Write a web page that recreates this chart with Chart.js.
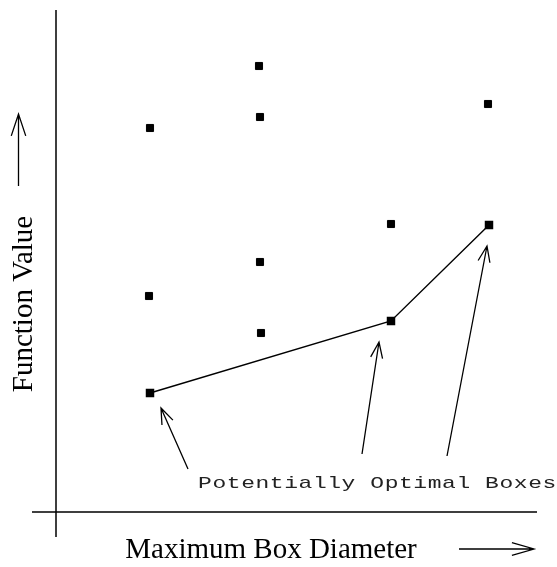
<!DOCTYPE html>
<html>
<head>
<meta charset="utf-8">
<script src="https://cdn.jsdelivr.net/npm/chart.js@4.4.1/dist/chart.umd.min.js"></script>
<style>
  html, body { margin: 0; padding: 0; background: #fff; }
  canvas { display: block; }
</style>
</head>
<body>
<canvas id="chart" width="557" height="567"></canvas>
<script>
// box diameter (x) / function value (y), arbitrary units
const boxX = [0.94, 0.93, 2.03, 2.04, 2.04, 2.05, 3.35, 4.32];
const boxY = [3.84, 2.16, 4.46, 3.95, 2.50, 1.79, 2.88, 4.08];

// potentially optimal boxes (lower right hull)
const hullX = [0.94, 3.35, 4.33];
const hullY = [1.19, 1.91, 2.87];

const X_LABEL = 'Maximum Box Diameter';
const Y_LABEL = 'Function Value';
const NOTE = 'Potentially Optimal Boxes';

const toPoints = (xs, ys) => xs.map((x, i) => ({ x, y: ys[i] }));

function arrow(ctx, x1, y1, x2, y2, len, ang) {
  // line from (x1,y1) to tip (x2,y2) with open head
  const a = Math.atan2(y2 - y1, x2 - x1);
  ctx.beginPath();
  ctx.moveTo(x1, y1);
  ctx.lineTo(x2, y2);
  ctx.moveTo(x2 - len * Math.cos(a - ang), y2 - len * Math.sin(a - ang));
  ctx.lineTo(x2, y2);
  ctx.lineTo(x2 - len * Math.cos(a + ang), y2 - len * Math.sin(a + ang));
  ctx.stroke();
}

// axes, arrows and labels
const decorations = {
  id: 'decorations',
  afterDatasetsDraw(chart) {
    const { ctx, scales: { x, y } } = chart;
    const ox = x.getPixelForValue(0);
    const oy = y.getPixelForValue(0);
    ctx.save();
    ctx.strokeStyle = '#000';
    ctx.lineWidth = 1.5;
    ctx.beginPath();
    ctx.moveTo(ox, 10);
    ctx.lineTo(ox, oy + 25);
    ctx.moveTo(ox - 24, oy);
    ctx.lineTo(537, oy);
    ctx.stroke();

    // arrows pointing at the hull boxes
    ctx.lineWidth = 1.3;
    const tips = [[11, 15, 188, 469], [-12, 21, 362, 454], [-2, 21, 447, 456]];
    tips.forEach(([dx, dy, tx, ty], i) => {
      const px = x.getPixelForValue(hullX[i]) + dx;
      const py = y.getPixelForValue(hullY[i]) + dy;
      arrow(ctx, tx, ty, px, py, 17, 0.36);
    });

    // axis direction arrows
    arrow(ctx, 18.5, 186, 18.5, 114, 23, 0.32);
    arrow(ctx, 459, 549, 534, 549, 23, 0.28);

    ctx.fillStyle = '#000';
    ctx.font = '29px "Liberation Serif", "Times New Roman", serif';
    ctx.textAlign = 'center';
    ctx.textBaseline = 'alphabetic';
    ctx.fillText(X_LABEL, 271, 558);

    ctx.save();
    ctx.translate(32, 304);
    ctx.rotate(-Math.PI / 2);
    ctx.fillText(Y_LABEL, 0, 0);
    ctx.restore();

    ctx.font = '17px "Liberation Mono", "Courier New", monospace';
    ctx.textAlign = 'center';
    ctx.fillStyle = '#222';
    for (let i = 0; i < NOTE.length; i++) {
      ctx.save();
      ctx.translate(205 + i * 14.35, 488);
      ctx.scale(1.35, 1);
      ctx.fillText(NOTE[i], 0, 0);
      ctx.restore();
    }
    ctx.restore();
  }
};

new Chart(document.getElementById('chart'), {
  type: 'scatter',
  data: {
    datasets: [
      {
        label: 'boxes',
        data: toPoints(boxX, boxY),
        pointStyle: 'rect',
        pointRadius: 5,
        borderWidth: 1,
        borderColor: '#000',
        backgroundColor: '#000'
      },
      {
        label: 'optimal',
        data: toPoints(hullX, hullY),
        showLine: true,
        pointStyle: 'rect',
        pointRadius: 5,
        borderWidth: 1.4,
        borderColor: '#000',
        backgroundColor: '#000'
      }
    ]
  },
  options: {
    responsive: false,
    animation: false,
    devicePixelRatio: 1,
    layout: { padding: 0, autoPadding: false },
    plugins: { legend: { display: false }, tooltip: { enabled: false } },
    scales: {
      x: { type: 'linear', display: false, min: -0.56, max: 5.01 },
      y: { type: 'linear', display: false, min: -0.55, max: 5.12 }
    }
  },
  plugins: [decorations]
});
</script>
</body>
</html>
